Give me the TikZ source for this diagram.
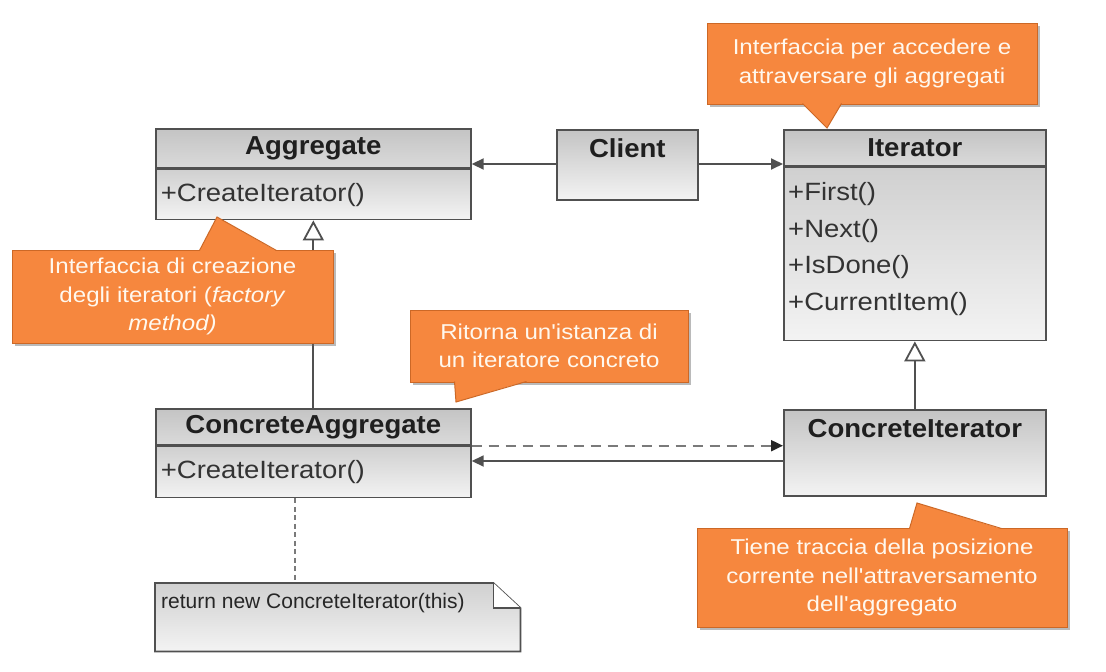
\documentclass[tikz,border=0pt]{standalone}
\usepackage{fontspec}
\setmainfont{Liberation Sans}
\newfontfamily\headfont{Liberation Sans}[FakeStretch=1.06]
\newfontfamily\opsfont{Liberation Sans}[FakeStretch=1.1]
\newfontfamily\tipfont{Liberation Sans}[FakeStretch=1.12]
\usepackage{tikz}
\usetikzlibrary{arrows.meta,shadows}
\usepackage{xcolor}

\definecolor{boxline}{HTML}{505050}
\definecolor{headtop}{HTML}{C4C4C4}
\definecolor{headbot}{HTML}{DADADA}
\definecolor{bodytop}{HTML}{D0D0D0}
\definecolor{bodybot}{HTML}{F3F3F3}
\definecolor{orng}{HTML}{F6873E}
\definecolor{orngline}{HTML}{CC6826}
\definecolor{tiptext}{HTML}{FFF8EE}
\definecolor{linkgray}{HTML}{7A7A7A}

\begin{document}
\begin{tikzpicture}[x=1pt, y=-1pt,
  box/.style={draw=boxline, line width=1.7pt, inner sep=0pt, anchor=north west},
  head/.style={box, top color=headtop, bottom color=headbot, text=black!88,
    font=\headfont\bfseries\fontsize{26}{30}\selectfont},
  body/.style={box, top color=bodytop, bottom color=bodybot, text=black!80,
    align=left, inner xsep=5pt, font=\opsfont\fontsize{25}{36.5}\selectfont},
  ops/.style={inner sep=0pt, align=left, text=black!80,
    font=\opsfont\fontsize{25}{36.5}\selectfont},
  tip/.style={rectangle, fill=orng, draw=orngline, line width=1pt, inner sep=0pt,
    text=tiptext, align=center, font=\tipfont\fontsize{21.5}{28.5}\selectfont,
    drop shadow={shadow xshift=3pt, shadow yshift=-3pt, opacity=0.45, fill=black!60}},
  assoc/.style={draw=boxline, line width=1.8pt, -{Triangle[length=12pt,width=11pt]}},
  inherit/.style={draw=boxline, line width=1.8pt, -{Triangle[length=20pt,width=21pt,fill=white]}},
  depend/.style={draw=linkgray, line width=2pt, dash pattern=on 10pt off 7pt,
    -{Triangle[length=12pt,width=11pt,fill=black!85,color=black!85]}},
  notelink/.style={draw=linkgray, line width=1.8pt, dash pattern=on 5pt off 3.5pt}
]

\fill[white] (0,0) rectangle (1106,672);
\useasboundingbox (0,0) rectangle (1106,672);

% -------------------------
% Classes
% -------------------------
\node[head, minimum width=315, minimum height=39] (aggHead) at (155,128) {Aggregate};
\node[body, text width=305, minimum height=50] (aggBody) at (aggHead.south west) {+CreateIterator()};

\node[head, minimum width=141, text height=28, text depth=42, top color=headtop, bottom color=bodybot] (client) at (556,129) {Client};

\node[head, minimum width=262, minimum height=36] (itHead) at (783,129) {Iterator};
\node[body, minimum width=262, minimum height=173] (itBody) at (itHead.south west) {};
\node[ops, anchor=north west] (itOps) at ([xshift=5pt,yshift=-15.5pt]itBody.north west)
  {+First()\\+Next()\\+IsDone()\\+CurrentItem()};

\node[head, minimum width=315, minimum height=36] (caHead) at (155,408) {ConcreteAggregate};
\node[body, text width=305, minimum height=51] (caBody) at (caHead.south west) {+CreateIterator()};

\node[head, minimum width=262, text height=28, text depth=58, top color=headtop, bottom color=bodybot] (ci) at (783,409) {ConcreteIterator};

% -------------------------
% Note
% -------------------------
\node[inner sep=0pt, minimum width=365, minimum height=68, anchor=north west] (note) at (155,583) {};
\shadedraw[top color=bodytop, bottom color=bodybot, draw=boxline, line width=1.7pt]
  (note.north west) -- ([xshift=-27pt]note.north east) -- ([yshift=-25pt]note.north east)
  -- (note.south east) -- (note.south west) -- cycle;
\filldraw[fill=white, draw=boxline, line width=1.7pt]
  ([xshift=-27pt]note.north east) -- ([xshift=-27pt,yshift=-25pt]note.north east)
  -- ([yshift=-25pt]note.north east);
\node[inner sep=0pt, anchor=west, text=black!85, font=\fontsize{21}{24}\selectfont] (noteText)
  at ([xshift=6pt,yshift=-20pt]note.north west) {return new ConcreteIterator(this)};

% -------------------------
% Connectors
% -------------------------
\draw[assoc] ([yshift=-35pt]client.north west) -- ([yshift=-35pt]client.north west -| aggHead.east);
\draw[assoc] ([yshift=-35pt]client.north east) -- ([yshift=-35pt]client.north east -| itHead.west);
\draw[inherit] (caHead.north) -- (aggBody.south);
\draw[inherit] (ci.north) -- (itBody.south);
\draw[depend] (caHead.south east) -- (caHead.south east -| ci.west);
\draw[assoc] ([yshift=-52pt]ci.north west) -- ([yshift=-52pt]ci.north west -| caBody.east);
\draw[notelink] ([xshift=-18pt]caBody.south) -- ([xshift=-18pt]caBody.south |- note.north);

% -------------------------
% Callouts
% -------------------------
\node[tip, minimum width=330, minimum height=81] (tipIt) at (872,63.5)
  {Interfaccia per accedere e\\attraversare gli aggregati};
\fill[orng] ([xshift=96pt,yshift=1.5pt]tipIt.south west) -- (827,128) -- ([xshift=135pt,yshift=1.5pt]tipIt.south west) -- cycle;
\draw[orngline, line width=1pt] ([xshift=96pt,yshift=1pt]tipIt.south west) -- (827,128) -- ([xshift=135pt,yshift=1pt]tipIt.south west);

\node[tip, minimum width=321, minimum height=93] (tipAgg) at (172.5,296.5)
  {Interfaccia di creazione\\degli iteratori (\textit{factory}\\\textit{method)}};
\fill[orng] ([xshift=188pt,yshift=-1.5pt]tipAgg.north west) -- (217,217) -- ([xshift=265pt,yshift=-1.5pt]tipAgg.north west) -- cycle;
\draw[orngline, line width=1pt] ([xshift=188pt,yshift=-1pt]tipAgg.north west) -- (217,217) -- ([xshift=265pt,yshift=-1pt]tipAgg.north west);

\node[tip, minimum width=278, minimum height=72] (tipCA) at (549,346)
  {Ritorna un'istanza di\\un iteratore concreto};
\fill[orng] ([xshift=45pt,yshift=1.5pt]tipCA.south west) -- (456,402) -- ([xshift=117pt,yshift=1.5pt]tipCA.south west) -- cycle;
\draw[orngline, line width=1pt] ([xshift=45pt,yshift=1pt]tipCA.south west) -- (456,402) -- ([xshift=117pt,yshift=1pt]tipCA.south west);

\node[tip, minimum width=370, minimum height=99] (tipCI) at (882,577.5)
  {Tiene traccia della posizione\\corrente nell'attraversamento\\dell'aggregato};
\fill[orng] ([xshift=213pt,yshift=-1.5pt]tipCI.north west) -- (917,503) -- ([xshift=305pt,yshift=-1.5pt]tipCI.north west) -- cycle;
\draw[orngline, line width=1pt] ([xshift=213pt,yshift=-1pt]tipCI.north west) -- (917,503) -- ([xshift=305pt,yshift=-1pt]tipCI.north west);

\end{tikzpicture}
\end{document}
